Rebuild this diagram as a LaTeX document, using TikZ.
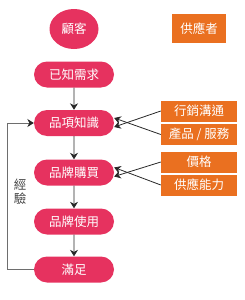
\documentclass[tikz,border=0pt]{standalone}
\usepackage{fontspec}
\setmainfont{Noto Sans CJK TC}
\usetikzlibrary{shapes.geometric,shapes.misc,arrows.meta}
\definecolor{pinkc}{RGB}{230,50,95}
\definecolor{orangec}{RGB}{234,112,32}
\definecolor{darkc}{RGB}{40,40,40}
\definecolor{grayc}{RGB}{110,110,110}
\definecolor{labelc}{RGB}{70,70,70}
\tikzset{
  pill/.style={rounded rectangle, fill=pinkc, text=white, minimum width=80pt, minimum height=26pt, inner sep=0pt, font=\fontsize{12.5}{14}\selectfont},
  obox/.style={rectangle, fill=orangec, text=white, minimum width=76pt, minimum height=21pt, inner sep=0pt, font=\fontsize{12.5}{14}\selectfont},
  arr/.style={draw=darkc, line width=0.8pt, -{Stealth[length=6.5pt,width=8pt]}},
  fb/.style={draw=grayc, line width=0.8pt, -{Stealth[length=6.5pt,width=8pt,color=darkc]}}
}
\begin{document}
\begin{tikzpicture}[x=1pt,y=-1pt]
\useasboundingbox (0,0) rectangle (245,300);
\node[ellipse, fill=pinkc, text=white, minimum width=49pt, minimum height=40pt, inner sep=0pt, font=\fontsize{12.5}{14}\selectfont] (c) at (74,29) {顧客};
\node[obox, minimum width=54pt, minimum height=29pt] (sup) at (199,28.5) {供應者};
\node[pill] (s1) at (74,74.5) {已知需求};
\node[pill] (s2) at (74,123) {品項知識};
\node[pill] (s3) at (74,172.5) {品牌購買};
\node[pill] (s4) at (74,221.5) {品牌使用};
\node[pill] (s5) at (74,269.5) {滿足};
\node[obox] (m1) at (199,111) {行銷溝通};
\node[obox] (m2) at (199,134.5) {產品 / 服務};
\node[obox] (m3) at (199,162) {價格};
\node[obox] (m4) at (199,185) {供應能力};
\draw[arr] (s1) -- (s2);
\draw[arr] (s2) -- (s3);
\draw[arr] (s3) -- (s4);
\draw[arr] (s4) -- (s5);
\draw[arr] (m1.west) -- ([yshift=-4pt]s2.east);
\draw[arr] (m2.west) -- ([yshift=5pt]s2.east);
\draw[arr] (m3.west) -- ([yshift=-4pt]s3.east);
\draw[arr] (m4.west) -- ([yshift=5pt]s3.east);
\coordinate (fbc) at (7,269.5);
\draw[fb] (s5.west) -- (fbc) |- (s2.west);
\node[text=labelc, align=center, font=\fontsize{12.5}{14}\selectfont] (exp) at (20,192) {經\\驗};
\end{tikzpicture}
\end{document}
